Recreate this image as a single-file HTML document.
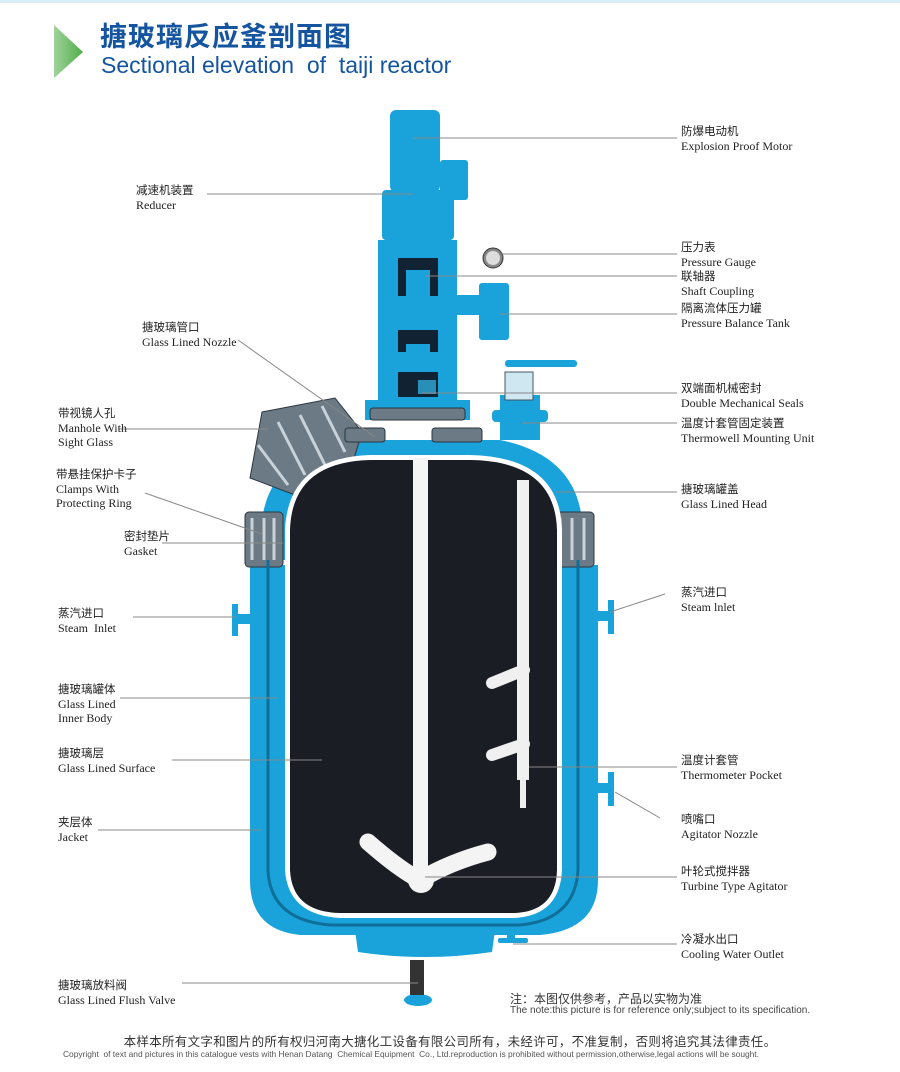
<!DOCTYPE html>
<html><head><meta charset="utf-8"><style>
body{margin:0;background:#fff;width:900px;height:1072px;overflow:hidden;position:relative;font-family:"Liberation Serif","Noto Serif CJK SC",serif}
.l{position:absolute;font-size:12px;line-height:14px;color:#222}
.cn{font-family:"Liberation Sans","Noto Sans CJK SC",sans-serif;font-size:11.5px}
</style></head><body>
<div style="position:absolute;left:0;top:0;width:900px;height:3px;background:#d8eef8"></div>
<svg style="position:absolute;left:0;top:0" width="900" height="1072">
<defs><linearGradient id="g" x1="0" x2="1"><stop offset="0" stop-color="#9fd39a"/><stop offset="1" stop-color="#4fae4a"/></linearGradient></defs>
<polygon points="54,25 83,52 54,78" fill="url(#g)"/>
<g fill="#1aa3da">
<path d="M250,565 L598,565 L598,880 Q598,930 540,935 L300,935 Q250,930 250,880 Z"/>
<path d="M355,930 L495,930 L492,952 Q425,962 358,952 Z"/>
<path d="M258,560 L262,520 Q270,455 350,440 L500,440 Q575,455 582,520 L586,560 Z"/>
<rect x="390" y="110" width="50" height="82" rx="6"/>
<rect x="440" y="160" width="28" height="40" rx="3"/>
<rect x="382" y="190" width="72" height="50" rx="4"/>
<rect x="378" y="240" width="79" height="170"/>
<rect x="365" y="400" width="105" height="20"/>
<rect x="457" y="295" width="25" height="20"/>
<rect x="479" y="283" width="30" height="57" rx="3"/>
<rect x="500" y="395" width="40" height="45"/>
<rect x="492" y="410" width="56" height="12" rx="4"/>
<rect x="505" y="360" width="72" height="7" rx="3"/>
<rect x="232" y="604" width="6" height="32"/><rect x="236" y="614" width="16" height="10"/>
<rect x="608" y="600" width="6" height="34"/><rect x="596" y="611" width="14" height="10"/>
<rect x="608" y="772" width="6" height="34"/><rect x="596" y="783" width="14" height="10"/>
<rect x="507" y="922" width="8" height="18"/><rect x="498" y="938" width="30" height="5" rx="2"/>
<ellipse cx="418" cy="1000" rx="14" ry="6"/>
</g>
<g fill="#123">
<path d="M398,258 h40 v38 h-8 v-26 h-24 v26 h-8 Z"/>
<path d="M398,330 h40 v22 h-8 v-8 h-24 v8 h-8 Z"/>
<path d="M398,372 h40 v25 h-40 Z"/>
</g>
<rect x="418" y="380" width="18" height="14" fill="#2a8fb8"/>
<circle cx="493" cy="258" r="10" fill="#888" stroke="#333"/><circle cx="493" cy="258" r="7" fill="#ddd"/>
<rect x="505" y="372" width="28" height="28" fill="#cfe7f0" stroke="#456"/>
<g fill="#6b7a85" stroke="#2a3540" stroke-width="1">
<path d="M262,412 L335,398 L362,432 L350,472 L295,495 L250,478 Z"/>
<rect x="245" y="512" width="38" height="55" rx="4"/>
<rect x="552" y="512" width="42" height="55" rx="4"/>
<rect x="345" y="428" width="40" height="14" rx="3"/>
<rect x="432" y="428" width="50" height="14" rx="3"/>
<rect x="370" y="408" width="95" height="12" rx="3"/>
</g>
<g stroke="#c9d2d8" stroke-width="3">
<line x1="258" y1="445" x2="288" y2="485"/><line x1="278" y1="422" x2="305" y2="475"/><line x1="300" y1="415" x2="325" y2="465"/><line x1="322" y1="406" x2="345" y2="452"/>
<line x1="252" y1="518" x2="252" y2="560"/><line x1="264" y1="518" x2="264" y2="560"/><line x1="274" y1="518" x2="274" y2="560"/>
<line x1="560" y1="518" x2="560" y2="560"/><line x1="572" y1="518" x2="572" y2="560"/><line x1="584" y1="518" x2="584" y2="560"/>
</g>
<path d="M268,560 L268,870 Q270,920 330,925 L520,925 Q575,920 578,870 L578,560" fill="none" stroke="#0f6f98" stroke-width="3"/>
<path d="M285,530 L285,870 Q288,915 340,918 L515,918 Q560,915 562,870 L562,530 Q560,457 470,455 L370,455 Q288,458 285,530 Z" fill="#fff"/>
<path d="M290,530 L290,870 Q292,912 340,913 L515,913 Q556,911 557,870 L557,530 Q555,461 470,460 L370,460 Q292,462 290,530 Z" fill="#1b1d25"/>
<rect x="413" y="458" width="15" height="420" fill="#f4f4f4"/>
<path d="M368,842 Q400,870 420,880 Q450,862 488,852" fill="none" stroke="#f4f4f4" stroke-width="17" stroke-linecap="round"/>
<circle cx="421" cy="880" r="13" fill="#f4f4f4"/>
<rect x="517" y="480" width="12" height="300" fill="#f0f0f0"/>
<rect x="520" y="778" width="6" height="30" fill="#eee"/>
<path d="M492,683 L524,670" stroke="#f0f0f0" stroke-width="12" stroke-linecap="round"/>
<path d="M492,755 L524,744" stroke="#f0f0f0" stroke-width="12" stroke-linecap="round"/>
<rect x="410" y="960" width="14" height="35" fill="#333"/>
<g stroke="#888" stroke-width="1" fill="none">
<line x1="207" y1="194" x2="413" y2="194"/>
<line x1="413" y1="138" x2="677" y2="138"/>
<line x1="503" y1="254" x2="677" y2="254"/>
<line x1="425" y1="276" x2="677" y2="276"/>
<line x1="500" y1="314" x2="677" y2="314"/>
<line x1="422" y1="393" x2="677" y2="393"/>
<line x1="522" y1="423" x2="677" y2="423"/>
<line x1="555" y1="492" x2="677" y2="492"/>
<line x1="610" y1="612" x2="665" y2="594"/>
<line x1="529" y1="767" x2="677" y2="767"/>
<line x1="615" y1="792" x2="660" y2="818"/>
<line x1="425" y1="877" x2="677" y2="877"/>
<line x1="513" y1="944" x2="677" y2="944"/>
<line x1="238" y1="340" x2="375" y2="437"/>
<line x1="118" y1="429" x2="268" y2="429"/>
<line x1="145" y1="493" x2="262" y2="534"/>
<line x1="162" y1="543" x2="283" y2="543"/>
<line x1="133" y1="617" x2="236" y2="617"/>
<line x1="120" y1="698" x2="278" y2="698"/>
<line x1="172" y1="760" x2="322" y2="760"/>
<line x1="98" y1="830" x2="262" y2="830"/>
<line x1="182" y1="983" x2="418" y2="983"/>
</g>
</svg>
<div style="position:absolute;left:100px;top:22px;line-height:30px;font-family:'Liberation Sans','Noto Sans CJK SC',sans-serif;font-weight:bold;font-size:27px;color:#1555a0;letter-spacing:1px">搪玻璃反应釜剖面图</div>
<div style="position:absolute;left:101px;top:52px;line-height:26px;font-family:'Liberation Sans',sans-serif;font-size:23px;color:#1555a0">Sectional elevation&nbsp; of&nbsp; taiji reactor</div>

<div class="l" style="left:681px;top:124px"><span class="cn">防爆电动机</span><br>Explosion Proof Motor</div>
<div class="l" style="left:136px;top:183px"><span class="cn">减速机装置</span><br>Reducer</div>
<div class="l" style="left:681px;top:240px"><span class="cn">压力表</span><br>Pressure Gauge</div>
<div class="l" style="left:681px;top:269px"><span class="cn">联轴器</span><br>Shaft Coupling</div>
<div class="l" style="left:681px;top:301px"><span class="cn">隔离流体压力罐</span><br>Pressure Balance Tank</div>
<div class="l" style="left:142px;top:320px"><span class="cn">搪玻璃管口</span><br>Glass Lined Nozzle</div>
<div class="l" style="left:681px;top:381px"><span class="cn">双端面机械密封</span><br>Double Mechanical Seals</div>
<div class="l" style="left:58px;top:406px"><span class="cn">带视镜人孔</span><br>Manhole With<br>Sight Glass</div>
<div class="l" style="left:681px;top:416px"><span class="cn">温度计套管固定装置</span><br>Thermowell Mounting Unit</div>
<div class="l" style="left:56px;top:467px"><span class="cn">带悬挂保护卡子</span><br>Clamps With<br>Protecting Ring</div>
<div class="l" style="left:681px;top:482px"><span class="cn">搪玻璃罐盖</span><br>Glass Lined Head</div>
<div class="l" style="left:124px;top:529px"><span class="cn">密封垫片</span><br>Gasket</div>
<div class="l" style="left:681px;top:585px"><span class="cn">蒸汽进口</span><br>Steam lnlet</div>
<div class="l" style="left:58px;top:606px"><span class="cn">蒸汽进口</span><br>Steam&nbsp; Inlet</div>
<div class="l" style="left:58px;top:682px"><span class="cn">搪玻璃罐体</span><br>Glass Lined<br>Inner Body</div>
<div class="l" style="left:58px;top:746px"><span class="cn">搪玻璃层</span><br>Glass Lined Surface</div>
<div class="l" style="left:681px;top:753px"><span class="cn">温度计套管</span><br>Thermometer Pocket</div>
<div class="l" style="left:681px;top:812px"><span class="cn">喷嘴口</span><br>Agitator Nozzle</div>
<div class="l" style="left:58px;top:815px"><span class="cn">夹层体</span><br>Jacket</div>
<div class="l" style="left:681px;top:864px"><span class="cn">叶轮式搅拌器</span><br>Turbine Type Agitator</div>
<div class="l" style="left:681px;top:932px"><span class="cn">冷凝水出口</span><br>Cooling Water Outlet</div>
<div class="l" style="left:58px;top:978px"><span class="cn">搪玻璃放料阀</span><br>Glass Lined Flush Valve</div>
<div style="position:absolute;left:510px;top:990px;font-family:'Liberation Sans','Noto Sans CJK SC',sans-serif;font-size:12px;color:#333">注：本图仅供参考，产品以实物为准</div>
<div style="position:absolute;left:510px;top:1005px;font-family:'Liberation Sans',sans-serif;font-size:10px;color:#444;white-space:nowrap">The note:this picture is for reference only;subject to its specification.</div>
<div style="position:absolute;left:0;width:900px;text-align:center;top:1031px;font-family:'Liberation Sans','Noto Sans CJK SC',sans-serif;font-size:12.5px;letter-spacing:0.3px;color:#333">本样本所有文字和图片的所有权归河南大搪化工设备有限公司所有，未经许可，不准复制，否则将追究其法律责任。</div>
<div style="position:absolute;left:63px;top:1049px;font-family:'Liberation Sans',sans-serif;font-size:8.4px;color:#555;white-space:nowrap">Copyright&nbsp; of text and pictures in this catalogue vests with Henan Datang&nbsp; Chemical Equipment&nbsp; Co., Ltd.reproduction is prohibited without permission,otherwise,legal actions will be sought.</div>
</body></html>
